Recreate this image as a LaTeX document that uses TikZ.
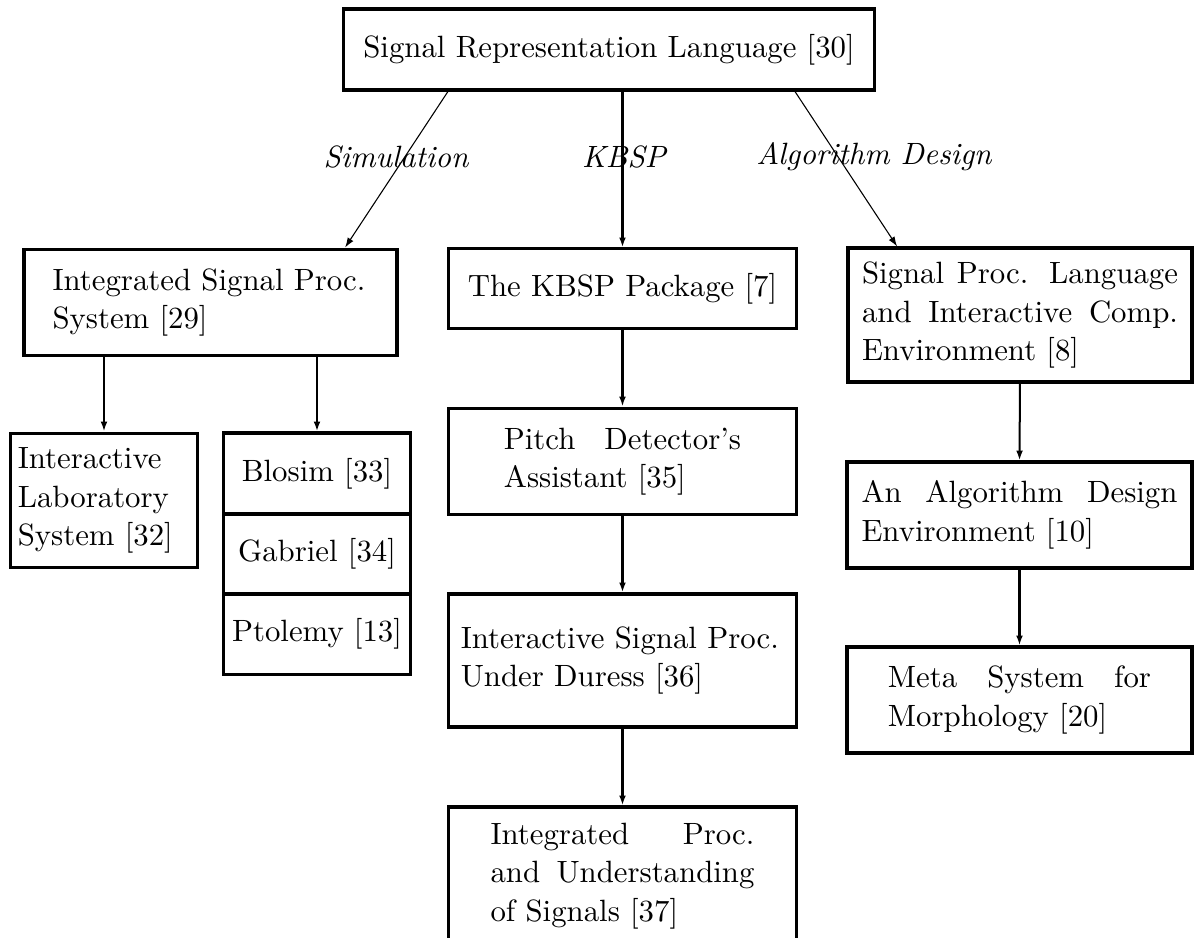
\documentclass[tikz,border=0pt]{standalone}
\usetikzlibrary{arrows.meta}
\newcommand{\jl}[2]{\makebox[#1][s]{\spaceskip=0pt\xspaceskip=0pt\relax #2}}
\begin{document}
\begin{tikzpicture}[x=0.3247pt,y=-0.3247pt,
  box/.style={draw,line width=1pt,inner sep=0pt,font=\fontsize{10}{12.5}\selectfont},
  lab/.style={font=\fontsize{10}{12}\selectfont\itshape,inner sep=0pt},
  thk/.style={line width=1pt,-{Latex[length=3.2pt,width=2.2pt]}},
  med/.style={line width=0.65pt,-{Latex[length=3.2pt,width=2.2pt]}},
  thn/.style={line width=0.35pt,-{Latex[length=3.2pt,width=2.2pt]}}]
\useasboundingbox (0,0) rectangle (1195,938);
\clip (0,0) rectangle (1195,938);
% boxes
\node[box,minimum width=172.7pt,minimum height=26.3pt] (top) at (609,49.5) {Signal Representation Language [30]};
\node[box,minimum width=121.1pt,minimum height=34.7pt,text width=102.6pt,align=left] (isps) at (210.5,302.5) {Integrated Signal Proc.\\System [29]};
\node[box,minimum width=112.7pt,minimum height=25.7pt] (kbsp) at (622.5,288.5) {The KBSP Package [7]};
\node[box,minimum width=111.7pt,minimum height=43.5pt,text width=102.6pt,align=left] (spl) at (1020,315) {\jl{102.6pt}{Signal Proc. Language}\\\jl{102.6pt}{and Interactive Comp.}\\Environment [8]};
\node[box,minimum width=61pt,minimum height=43.8pt,text width=56pt,align=left] (ils) at (104,500.5) {Interactive\\Laboratory\\System [32]};
\node[box,minimum width=61pt,minimum height=26.3pt] (blosim) at (317,473.5) {Blosim [33]};
\node[box,minimum width=61pt,minimum height=26pt] (gabriel) at (317,554) {Gabriel [34]};
\node[box,minimum width=61pt,minimum height=26pt] (ptolemy) at (317,634) {Ptolemy [13]};
\node[box,minimum width=112.7pt,minimum height=34.7pt,text width=77pt,align=left] (pitch) at (622.5,461.5) {\jl{77pt}{Pitch Detector's}\\Assistant [35]};
\node[box,minimum width=112.7pt,minimum height=43.2pt,text width=105pt,align=left] (isp) at (622.5,660.5) {Interactive Signal Proc.\\Under Duress [36]};
\node[box,minimum width=112pt,minimum height=34.4pt,text width=102.6pt,align=left] (algdes) at (1019.5,515) {\jl{102.6pt}{An Algorithm Design}\\Environment [10]};
\node[box,minimum width=112pt,minimum height=34.4pt,text width=85.4pt,align=left] (meta) at (1019.5,700) {\jl{85.4pt}{Meta System for}\\Morphology [20]};
\node[box,minimum width=112.7pt,minimum height=44.8pt,text width=85.7pt,align=left] (ipus) at (622.5,876) {\jl{85.7pt}{Integrated Proc.}\\\jl{85.7pt}{and Understanding}\\of Signals [37]};
% labels
\node[lab] (lsim) at (396,157) {Simulation};
\node[lab] (lkbsp) at (624,157) {KBSP};
\node[lab] (lalg) at (874,157) {Algorithm Design};
% connectors
\draw[thn] ([xshift=-52.3pt]top.south) -- ([xshift=43.7pt]isps.north);
\draw[thk] (top.south -| kbsp.north) -- (kbsp.north);
\draw[thn] ([xshift=60.4pt]top.south) -- ([xshift=-39.9pt]spl.north);
\draw[med] (isps.south -| ils.north) -- (ils.north);
\draw[med] (isps.south -| blosim.north) -- (blosim.north);
\draw[thk] (kbsp.south) -- (pitch.north);
\draw[thk] (pitch.south) -- (isp.north);
\draw[thk] (isp.south) -- (ipus.north);
\draw[med] (spl.south) -- (algdes.north);
\draw[med] (algdes.south) -- (meta.north);
\end{tikzpicture}
\end{document}
